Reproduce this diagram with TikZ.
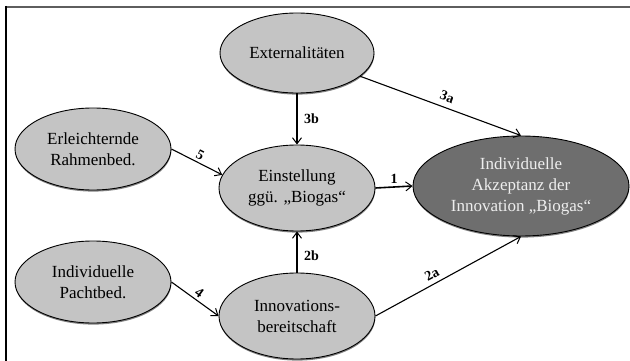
\documentclass[tikz,border=0pt]{standalone}
\usepackage{fontspec}
\setmainfont{Liberation Serif}
\usetikzlibrary{shapes.geometric,arrows.meta,shadows}
\definecolor{ellfill}{HTML}{C4C4C4}
\definecolor{darkfill}{HTML}{6E6E6E}
\definecolor{lighttext}{HTML}{EEEEEE}
\definecolor{framegray}{HTML}{5E5E5E}
\tikzset{
  ell/.style={ellipse, draw=black, line width=0.9pt, fill=ellfill, inner sep=0pt,
    align=center, font=\fontsize{17}{21}\selectfont,
    drop shadow={shadow xshift=0.3pt, shadow yshift=-1.6pt, fill=black!70, opacity=0.7}},
  conn/.style={line width=1.1pt, -{Straight Barb[length=6pt,width=9pt,line width=1pt]}},
  lbl/.style={font=\fontsize{14}{15}\selectfont\bfseries, inner sep=2.5pt},
}
\begin{document}
\begin{tikzpicture}[x=1pt,y=-1pt]
\useasboundingbox (0,0) rectangle (630,361);
\coordinate (tl) at (6,7);
\coordinate (tr) at (630,7);
\coordinate (bl) at (6,361);
\draw[framegray, line width=2.2pt] (tl) -- (tr);
\draw[black, line width=1.3pt] ([yshift=1pt]tl) -- (bl);

\node[ell, minimum width=154, minimum height=80] (ext) at (297,53) {Externalitäten};
\node[ell, minimum width=156, minimum height=82] (erl) at (93,149) {Erleichternde\\Rahmenbed.};
\node[ell, minimum width=156, minimum height=86] (ein) at (297,188) {Einstellung\\ggü. „Biogas“};
\node[ell, minimum width=216, minimum height=100, fill=darkfill, text=lighttext] (akz) at (521,186) {Individuelle\\Akzeptanz der\\Innovation „Biogas“};
\node[ell, minimum width=156, minimum height=82] (pac) at (93,282) {Individuelle\\Pachtbed.};
\node[ell, minimum width=156, minimum height=86] (inn) at (297,316) {Innovations-\\bereitschaft};

\draw[conn] (ext) -- (akz.north) node[lbl, midway, above, sloped, xshift=3pt, yshift=3pt] {3a};
\draw[conn] (ext.south) -- (ein.north) node[lbl, midway, right, xshift=4pt] {3b};
\draw[conn] (erl.east) -- (ein.170) node[lbl, midway, above, sloped] {5};
\draw[conn, line width=1.6pt] (ein.east) -- (akz.west) node[lbl, midway, above] {1};
\draw[conn] (inn.north) -- (ein.south) node[lbl, pos=0.4, right, xshift=4pt] {2b};
\draw[conn] (pac.east) -- (inn.west) node[lbl, midway, above, sloped] {4};
\draw[conn] (inn.east) -- (akz.south) node[lbl, pos=0.42, above, sloped, yshift=2pt] {2a};
\end{tikzpicture}
\end{document}
